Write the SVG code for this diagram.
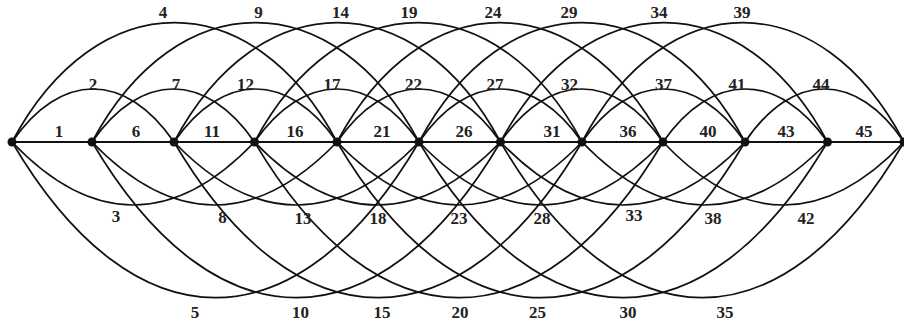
<svg xmlns="http://www.w3.org/2000/svg" width="904" height="324" viewBox="0 0 904 324">
<style>
.e{fill:none;stroke:#111;stroke-width:1.7;}
.s{fill:none;stroke:#111;stroke-width:2.2;}
.n{fill:#111;}
.l{font-family:"Liberation Serif","Times New Roman",serif;font-weight:bold;font-size:17px;fill:#222;text-anchor:middle;}
</style>
<rect width="904" height="324" fill="#fff"/>
<g id="connectors">
<path class="s" d="M12,142H92"/>
<path class="s" d="M92,142H174"/>
<path class="s" d="M174,142H254.5"/>
<path class="s" d="M254.5,142H337"/>
<path class="s" d="M337,142H419"/>
<path class="s" d="M419,142H500.5"/>
<path class="s" d="M500.5,142H582"/>
<path class="s" d="M582,142H663"/>
<path class="s" d="M663,142H745"/>
<path class="s" d="M745,142H827.5"/>
<path class="s" d="M827.5,142H904"/>
<path class="e" d="M12,142C60.6,71.3 125.4,71.3 174,142"/>
<path class="e" d="M92,142C140.75,71.3 205.75,71.3 254.5,142"/>
<path class="e" d="M174,142C222.9,71.3 288.1,71.3 337,142"/>
<path class="e" d="M254.5,142C303.85,71.3 369.65,71.3 419,142"/>
<path class="e" d="M337,142C386.05,71.3 451.45,71.3 500.5,142"/>
<path class="e" d="M419,142C467.9,71.3 533.1,71.3 582,142"/>
<path class="e" d="M500.5,142C549.25,71.3 614.25,71.3 663,142"/>
<path class="e" d="M582,142C630.9,71.3 696.1,71.3 745,142"/>
<path class="e" d="M663,142C712.35,71.3 778.15,71.3 827.5,142"/>
<path class="e" d="M745,142C792.7,71.3 856.3,71.3 904,142"/>
<path class="e" d="M12,142C96.5,-17.1 252.5,-17.1 337,142"/>
<path class="e" d="M92,142C177,-17.1 334,-17.1 419,142"/>
<path class="e" d="M174,142C258.9,-17.1 415.6,-17.1 500.5,142"/>
<path class="e" d="M254.5,142C339.7,-17.1 496.8,-17.1 582,142"/>
<path class="e" d="M337,142C421.8,-17.1 578.2,-17.1 663,142"/>
<path class="e" d="M419,142C503.8,-17.1 660.2,-17.1 745,142"/>
<path class="e" d="M500.5,142C585.5,-17.1 742.5,-17.1 827.5,142"/>
<path class="e" d="M582,142C665.7,-17.1 820.3,-17.1 904,142"/>
<path class="e" d="M12,142C92,226 174.5,226 254.5,142"/>
<path class="e" d="M92,142C172.9,226 256.1,226 337,142"/>
<path class="e" d="M174,142C254.9,226 338.1,226 419,142"/>
<path class="e" d="M254.5,142C335.7,226 419.3,226 500.5,142"/>
<path class="e" d="M337,142C417.9,226 501.1,226 582,142"/>
<path class="e" d="M419,142C499.5,226 582.5,226 663,142"/>
<path class="e" d="M500.5,142C581.2,226 664.3,226 745,142"/>
<path class="e" d="M582,142C663,226 746.5,226 827.5,142"/>
<path class="e" d="M663,142C742.5,226 824.5,226 904,142"/>
<path class="e" d="M12,142C134.1,349.6 296.9,349.6 419,142"/>
<path class="e" d="M92,142C214.6,349.6 377.9,349.6 500.5,142"/>
<path class="e" d="M174,142C296.4,349.6 459.6,349.6 582,142"/>
<path class="e" d="M254.5,142C377.1,349.6 540.4,349.6 663,142"/>
<path class="e" d="M337,142C459.4,349.6 622.6,349.6 745,142"/>
<path class="e" d="M419,142C541.6,349.6 704.9,349.6 827.5,142"/>
<path class="e" d="M500.5,142C621.5,349.6 783,349.6 904,142"/>
</g>
<g id="edge-labels">
<text class="l" x="59" y="137">1</text>
<text class="l" x="136" y="137">6</text>
<text class="l" x="212" y="137">11</text>
<text class="l" x="295" y="137">16</text>
<text class="l" x="382" y="137">21</text>
<text class="l" x="464" y="137">26</text>
<text class="l" x="552" y="137">31</text>
<text class="l" x="628" y="137">36</text>
<text class="l" x="708" y="137">40</text>
<text class="l" x="786" y="137">43</text>
<text class="l" x="864" y="137">45</text>
<text class="l" x="93" y="89.5">2</text>
<text class="l" x="176" y="89.5">7</text>
<text class="l" x="245.5" y="89.5">12</text>
<text class="l" x="332" y="89.5">17</text>
<text class="l" x="413.5" y="89.5">22</text>
<text class="l" x="495" y="89.5">27</text>
<text class="l" x="569.5" y="89.5">32</text>
<text class="l" x="663.5" y="89.5">37</text>
<text class="l" x="737" y="89.5">41</text>
<text class="l" x="821" y="89.5">44</text>
<text class="l" x="163" y="18">4</text>
<text class="l" x="258.5" y="18">9</text>
<text class="l" x="340.5" y="18">14</text>
<text class="l" x="409" y="18">19</text>
<text class="l" x="493" y="18">24</text>
<text class="l" x="569" y="18">29</text>
<text class="l" x="659" y="18">34</text>
<text class="l" x="742" y="18">39</text>
<text class="l" x="116" y="221.5">3</text>
<text class="l" x="222.5" y="223">8</text>
<text class="l" x="303" y="224">13</text>
<text class="l" x="378" y="224">18</text>
<text class="l" x="459" y="224">23</text>
<text class="l" x="542" y="224">28</text>
<text class="l" x="634" y="220.5">33</text>
<text class="l" x="713" y="223.5">38</text>
<text class="l" x="806" y="223.5">42</text>
<text class="l" x="195" y="318">5</text>
<text class="l" x="300.5" y="318">10</text>
<text class="l" x="382" y="318">15</text>
<text class="l" x="460" y="318">20</text>
<text class="l" x="537.5" y="318">25</text>
<text class="l" x="628" y="318">30</text>
<text class="l" x="725" y="318">35</text>
</g>
<g id="node-0"><circle class="n" cx="12" cy="142" r="4.5"/></g>
<g id="node-1"><circle class="n" cx="92" cy="142" r="4.5"/></g>
<g id="node-2"><circle class="n" cx="174" cy="142" r="4.5"/></g>
<g id="node-3"><circle class="n" cx="254.5" cy="142" r="4.5"/></g>
<g id="node-4"><circle class="n" cx="337" cy="142" r="4.5"/></g>
<g id="node-5"><circle class="n" cx="419" cy="142" r="4.5"/></g>
<g id="node-6"><circle class="n" cx="500.5" cy="142" r="4.5"/></g>
<g id="node-7"><circle class="n" cx="582" cy="142" r="4.5"/></g>
<g id="node-8"><circle class="n" cx="663" cy="142" r="4.5"/></g>
<g id="node-9"><circle class="n" cx="745" cy="142" r="4.5"/></g>
<g id="node-10"><circle class="n" cx="827.5" cy="142" r="4.5"/></g>
<g id="node-11"><circle class="n" cx="904" cy="142" r="4.5"/></g>
</svg>
